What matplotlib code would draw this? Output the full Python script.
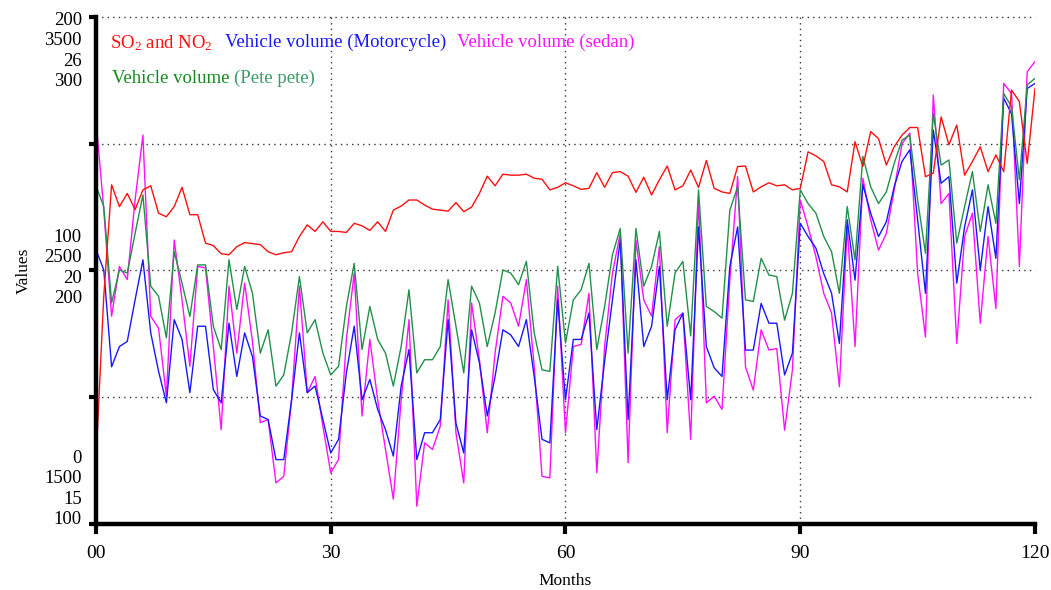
"""Monthly pollutant vs vehicle volume chart (four overlaid scales)."""
from __future__ import annotations

import matplotlib

matplotlib.use("Agg")
import matplotlib.pyplot as plt  # noqa: E402
import numpy as np  # noqa: E402

# heights, in % of the plot height (all four scales share the frame)
months = np.arange(0, 121)

so2_no2 = [
    12.4, 45, 66.9, 62.6, 65.2, 62, 65.9, 66.7, 61.3, 60.6,
    62.6, 66.4, 61, 61, 55.4, 54.9, 53.3, 53.1, 54.7, 55.5,
    55.3, 55.1, 53.7, 53.1, 53.5, 53.7, 56.7, 59, 57.7, 59.6,
    57.7, 57.7, 57.5, 59.3, 58.8, 57.9, 59.6, 57.7, 61.9, 62.7,
    63.9, 63.9, 62.9, 62.1, 61.9, 61.7, 63.4, 61.6, 62.5, 65.2,
    68.6, 66.7, 69, 68.8, 68.8, 69, 68.2, 68, 65.9, 66.4,
    67.3, 66.7, 66, 66.2, 69.3, 66.4, 69.3, 69.5, 68.6, 65.4,
    68.4, 64.9, 67.9, 70.6, 65.9, 66.7, 69.8, 66.4, 71.7, 66.2,
    65.5, 65.2, 70.5, 70.6, 65.5, 66.5, 67.3, 66.7, 66.9, 65.9,
    66.2, 73.4, 72.6, 71.5, 66.9, 66.5, 65.5, 75.4, 70.5, 77.4,
    76, 70.8, 74.4, 76.7, 78.2, 78.2, 68.5, 69.2, 80.3, 74.8,
    78.7, 68.8, 71.5, 74.4, 69.5, 72.8, 69.5, 85.6, 83.3, 71.1,
    85.9,
]

motorcycle = [
    54.1, 50.1, 31, 35, 36, 44.2, 52.1, 37.7, 30.1, 23.9,
    40.3, 36.4, 25.9, 39, 39, 26.5, 23.9, 39.6, 29.1, 37.7,
    33, 21.3, 20.6, 12.7, 12.7, 24.5, 37.7, 25.9, 27.2, 20.6,
    14, 16.7, 29.8, 39, 24.5, 28.5, 22.6, 18.6, 13.4, 27.2,
    34.4, 12.7, 18, 18, 20.6, 40.3, 19.9, 14, 38.3, 31.8,
    21.3, 29.1, 38.3, 37.3, 35, 40.3, 29.1, 16.7, 16, 44.2,
    24.5, 36.4, 36.4, 41.6, 18.6, 32.1, 44.2, 56, 20.6, 52.1,
    35, 39, 50.8, 24.5, 38.3, 41.6, 24.5, 58.6, 35, 30.8,
    29.1, 50.8, 58.6, 34.3, 34.3, 43.5, 39.6, 39.6, 29.4, 33.7,
    59.3, 56.7, 54.4, 49.4, 45.5, 35.6, 60, 48.1, 66.9, 61.3,
    56.7, 59.6, 66.5, 71.5, 73.8, 60, 45.5, 77.7, 67.2, 68.5,
    47.5, 58.6, 65.9, 50.1, 62.6, 52.4, 84, 80.9, 63.2, 85.9,
    86.9,
]

sedan = [
    79.7, 62, 41, 50.8, 48.2, 63.9, 76.7, 41, 38.6, 25.2,
    56, 44.2, 31.1, 50.8, 50.5, 35, 18.6, 46.9, 33.7, 47.5,
    36, 20, 20.6, 8.1, 9.4, 24.5, 46.9, 25.9, 29.1, 19.3,
    10.1, 12.7, 36.4, 49.5, 21.3, 36.4, 24.5, 14.7, 4.9, 24.5,
    40.3, 3.5, 16, 14.7, 19.3, 44.2, 18, 8.1, 43.6, 32.4,
    18, 33.7, 44.9, 43.6, 39, 48.2, 31.1, 9.4, 9.1, 46.9,
    18, 35, 35.4, 45.5, 10.1, 35, 49.5, 57.3, 12.1, 56,
    44.2, 41, 54.7, 18, 40.3, 41.6, 16.7, 64.3, 23.9, 25.2,
    22.6, 48.1, 68.5, 31, 26.4, 38.3, 34.3, 34.6, 18.5, 30.4,
    63.9, 58.6, 52.7, 45.5, 41.6, 27.1, 58.6, 35, 68.2, 60,
    54, 57.3, 65.9, 75, 77.1, 49.4, 36.9, 84.6, 63.2, 65.2,
    35.6, 56.7, 61.3, 39.6, 56.7, 42.5, 86.9, 84.9, 50.8, 89.2,
    91.2,
]

pete_pete = [
    66.7, 62.6, 43.6, 50.1, 49.5, 57.3, 64.9, 46.9, 44.9, 36.7,
    53.7, 47.5, 40.9, 51.1, 51.1, 39, 34.4, 52.1, 42.3, 50.8,
    45.5, 33.7, 38.3, 27.2, 29.4, 37.7, 48.8, 37.7, 40.3, 33.7,
    29.4, 31.1, 42.9, 51.4, 34.4, 42.9, 36.4, 33.7, 27.2, 35,
    46.2, 29.8, 32.4, 32.4, 35, 48.2, 39, 29.8, 46.9, 43.6,
    35, 41.6, 50.1, 49.5, 47.2, 51.8, 37.7, 30.4, 30.1, 50.8,
    35.7, 44.2, 46.2, 51.4, 34.4, 42.9, 53.1, 58.3, 33.7, 58.3,
    46.9, 50.8, 57.7, 39, 49.5, 51.8, 37.1, 65.9, 42.9, 41.9,
    40.6, 61.9, 66.5, 44.2, 43.9, 52.4, 49.1, 48.8, 40.2, 45.5,
    65.9, 63.2, 61.3, 56.7, 53.7, 45.5, 62.6, 52.1, 72.5, 66.5,
    63.2, 65.5, 71.1, 75.7, 76.7, 63.9, 53.4, 81, 70.8, 71.8,
    55.4, 62.6, 69.5, 57.7, 66.9, 59.3, 84.9, 82.3, 67.9, 86.6,
    87.9,
]

x_ticks = [0, 30, 60, 90, 120]
x_ticklabels = ["00", "30", "60", "90", "120"]

# stacked tick labels of the four scales (SO2/NO2, motorcycle, sedan, pete pete)
scale_top = ["200", "3500", "26", "300"]
scale_mid = ["100", "2500", "20", "200"]
scale_low = ["0", "1500", "15", "100"]

RED = "#ff1010"
BLUE = "#1818ff"
MAGENTA = "#ff10ff"
GREEN = "#22904a"
SERIF = "Liberation Serif"


def main() -> None:
    plt.rcParams["font.family"] = SERIF
    plt.rcParams["mathtext.fontset"] = "custom"
    plt.rcParams["mathtext.rm"] = SERIF
    plt.rcParams["mathtext.default"] = "regular"

    fig = plt.figure(figsize=(10.51, 5.90), dpi=100)
    ax = fig.add_axes([0.0913, 0.1119, 0.8935, 0.8593])

    ax.plot(months, sedan, color=MAGENTA, lw=1.0)
    ax.plot(months, motorcycle, color=BLUE, lw=1.0)
    ax.plot(months, pete_pete, color=GREEN, lw=1.0)
    ax.plot(months, so2_no2, color=RED, lw=1.0)

    ax.set_xlim(0, 120)
    ax.set_ylim(0, 100)

    dots = dict(color="#333333", lw=1.0, ls=(0, (1, 3)), zorder=0.5)
    for xv in x_ticks[1:-1]:
        ax.axvline(xv, **dots)
    for yv in (25, 50, 75, 100):
        ax.axhline(yv, clip_on=False, **dots)

    for side in ("top", "right"):
        ax.spines[side].set_visible(False)
    for side in ("left", "bottom"):
        ax.spines[side].set_linewidth(3.2)

    ax.set_xticks(x_ticks)
    ax.set_xticklabels(x_ticklabels, fontsize=14)
    ax.tick_params(axis="x", length=7, width=3, pad=8)
    ax.set_yticks([0, 25, 50, 75, 100])
    ax.set_yticklabels([])
    ax.tick_params(axis="y", length=5, width=3)

    for labels, yv in ((scale_top, 93.3), (scale_mid, 50.5), (scale_low, 6.9)):
        ax.text(-0.015, yv, "\n".join(labels), transform=ax.get_yaxis_transform(),
                ha="right", va="center", fontsize=13.5, linespacing=1.27, multialignment="right")

    ax.set_xlabel("Months", fontsize=12.5, labelpad=8)
    ax.set_ylabel("Values", fontsize=12.5, labelpad=38)

    # legend written straight into the plot, like the original
    fs = 13.5
    leg_y = 0.968
    ax.text(0.015, leg_y, "SO$_2$ and NO$_2$", color=RED, fontsize=fs,
            transform=ax.transAxes, va="top")
    ax.text(0.1374, leg_y, "Vehicle volume (Motorcycle)", color=BLUE, fontsize=fs,
            transform=ax.transAxes, va="top")
    ax.text(0.3845, leg_y, "Vehicle volume (sedan)", color=MAGENTA, fontsize=fs,
            transform=ax.transAxes, va="top")
    t_pp = ax.text(0.017, 0.895, "Vehicle volume", color="#128a20", fontsize=fs,
                   transform=ax.transAxes, va="top")
    ax.annotate("(Pete pete)", xy=(1, 0), xycoords=t_pp, xytext=(3.5, 0),
                textcoords="offset points", color="#3a9a68", fontsize=fs, va="bottom")

    fig.savefig("out.png", dpi=100)
    plt.close(fig)


if __name__ == "__main__":
    main()
